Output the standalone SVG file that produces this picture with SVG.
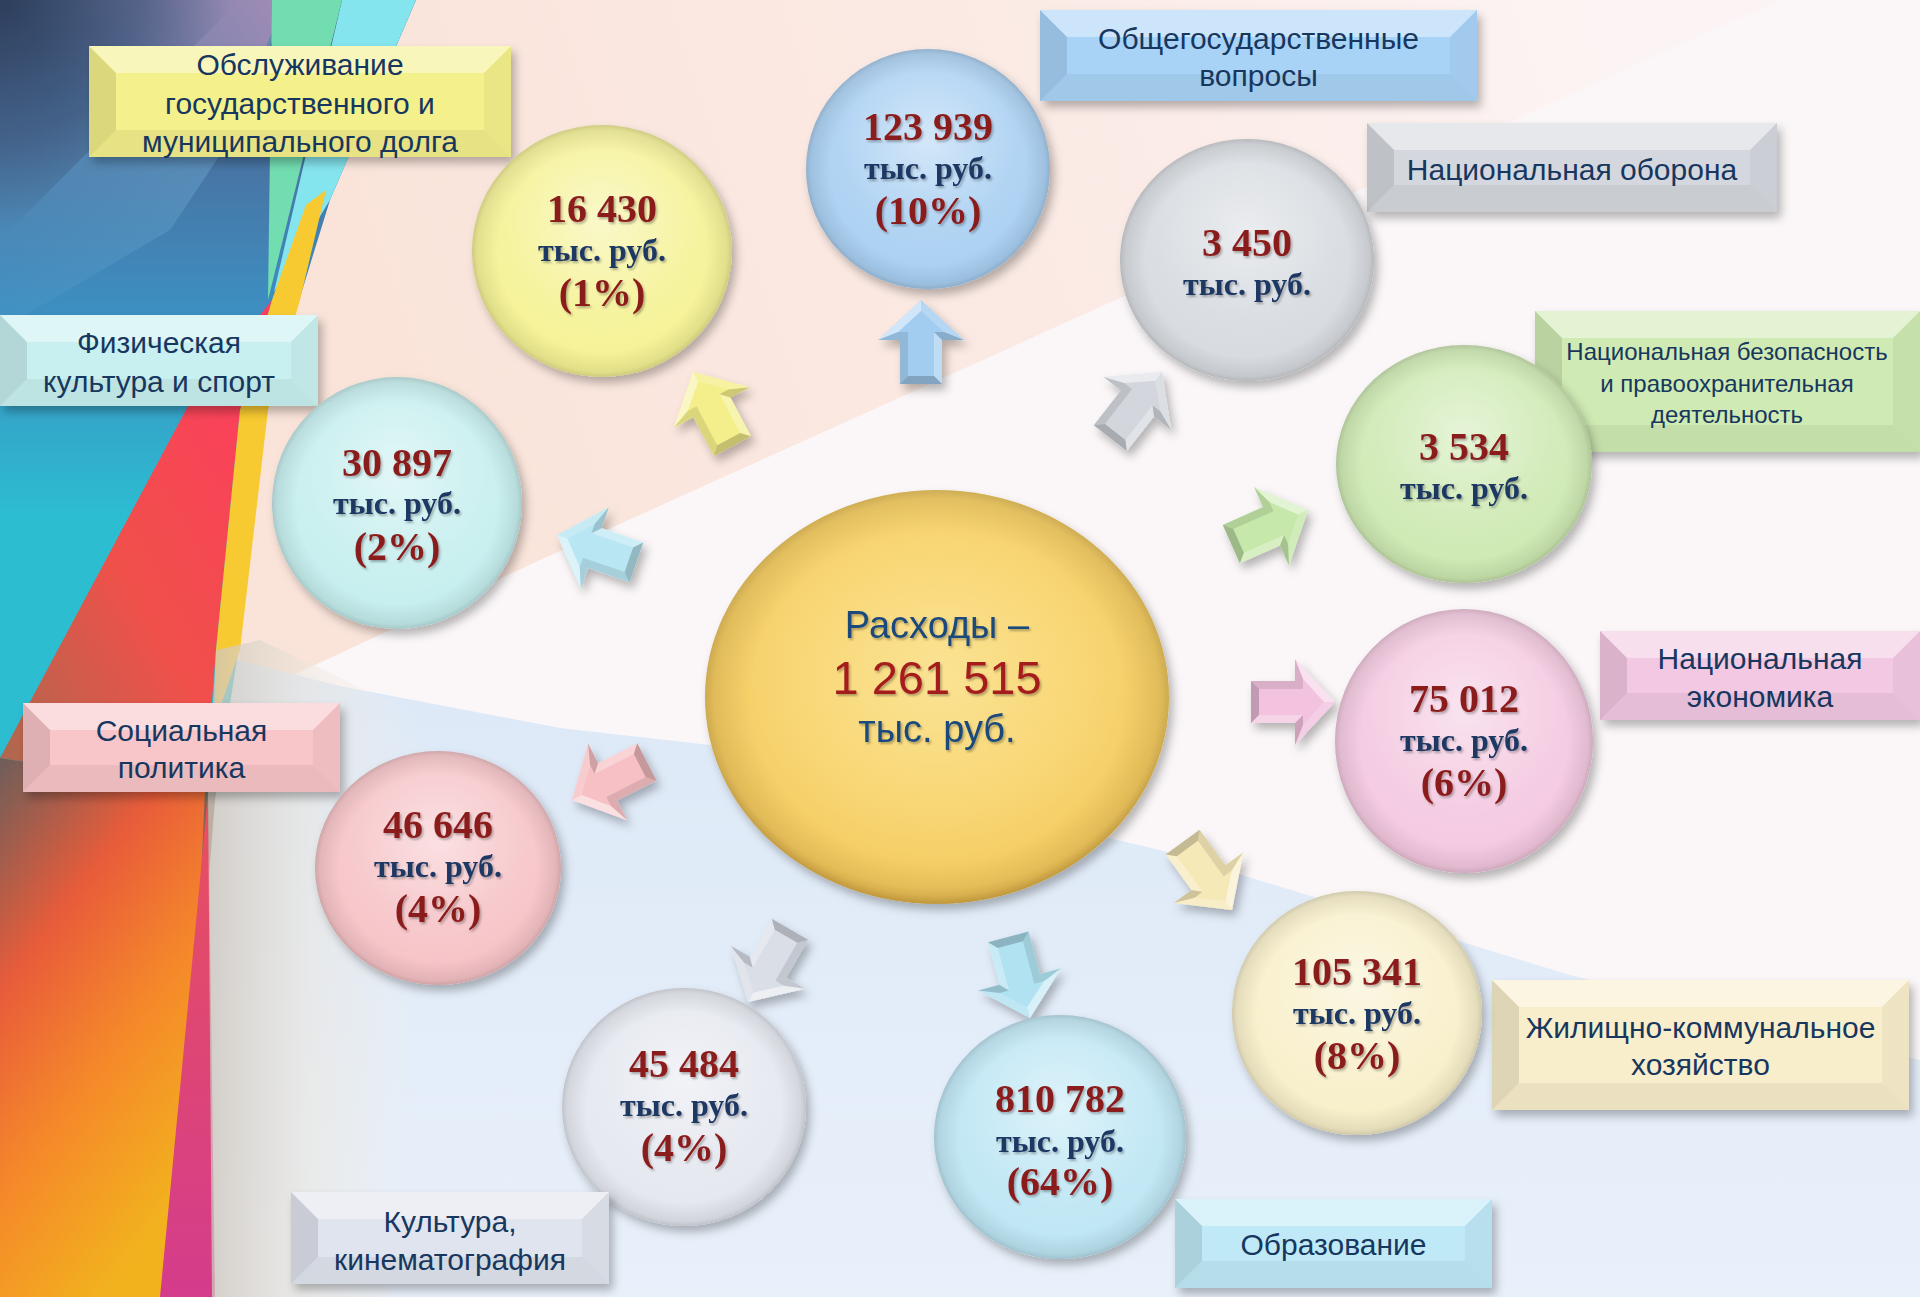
<svg xmlns="http://www.w3.org/2000/svg" xmlns:xlink="http://www.w3.org/1999/xlink" width="1920" height="1297" viewBox="0 0 1920 1297">
<defs>
<style>
.lbl{font-family:"Liberation Sans",Arial,sans-serif;font-size:30px;fill:#17375e;text-anchor:middle}
.sm{font-size:24px}
.num{font-family:"Liberation Serif","Times New Roman",serif;font-weight:bold;font-size:40px;fill:#8b1a1a;text-anchor:middle}
.unit{font-family:"Liberation Serif","Times New Roman",serif;font-weight:bold;font-size:32px;fill:#1f3864;text-anchor:middle}
.ctr{font-family:"Liberation Sans",Arial,sans-serif;font-size:38px;fill:#1b4a7c;text-anchor:middle}
.ctrn{font-family:"Liberation Sans",Arial,sans-serif;font-size:47px;fill:#a51c1c;text-anchor:middle}
.ft{fill:#fff;fill-opacity:.42}
.fb{fill:#000;fill-opacity:.05}
.fl{fill:#000;fill-opacity:.1}
.fr{fill:#000;fill-opacity:.04}
.gl{fill:url(#gloss)}
.rm{fill:url(#rim)}
</style>
<filter id="sh" x="-20%" y="-20%" width="150%" height="150%"><feDropShadow dx="4" dy="6" stdDeviation="5" flood-color="#000" flood-opacity="0.28"/></filter>
<filter id="tsh" x="-10%" y="-20%" width="130%" height="150%"><feDropShadow dx="1.5" dy="2" stdDeviation="1.2" flood-color="#000" flood-opacity="0.3"/></filter>
<radialGradient id="gloss" cx="0.5" cy="0.38" r="0.6"><stop offset="0" stop-color="#fff" stop-opacity="0.5"/><stop offset="0.6" stop-color="#fff" stop-opacity="0.12"/><stop offset="1" stop-color="#fff" stop-opacity="0"/></radialGradient>
<radialGradient id="rim" cx="0.5" cy="0.5" r="0.5"><stop offset="0.8" stop-color="#000" stop-opacity="0"/><stop offset="0.96" stop-color="#000" stop-opacity="0.08"/><stop offset="1" stop-color="#000" stop-opacity="0.16"/></radialGradient>
<radialGradient id="gC" cx="0.5" cy="0.45" r="0.55"><stop offset="0" stop-color="#fbe394"/><stop offset="0.6" stop-color="#f8d674"/><stop offset="0.93" stop-color="#f4ca5e"/><stop offset="1" stop-color="#e3b449"/></radialGradient>
<radialGradient id="gNavy" gradientUnits="userSpaceOnUse" cx="0" cy="0" r="230"><stop offset="0" stop-color="#2c3b58" stop-opacity="0.95"/><stop offset="0.6" stop-color="#34486c" stop-opacity="0.55"/><stop offset="1" stop-color="#34486c" stop-opacity="0"/></radialGradient>
<linearGradient id="gPeach" gradientUnits="userSpaceOnUse" x1="400" y1="400" x2="1600" y2="0"><stop offset="0" stop-color="#fae4da"/><stop offset="0.6" stop-color="#fbebe6"/><stop offset="1" stop-color="#fcf4f4"/></linearGradient>
<linearGradient id="gBlue" x1="0" y1="0" x2="0" y2="1"><stop offset="0" stop-color="#dce8f7"/><stop offset="1" stop-color="#e8f0fa"/></linearGradient>
<linearGradient id="gLeft" x1="0" y1="0" x2="0" y2="1"><stop offset="0" stop-color="#3b4a6b"/><stop offset="0.1" stop-color="#4a6e9c"/><stop offset="0.24" stop-color="#3d8fc2"/><stop offset="0.4" stop-color="#2cbdd1"/><stop offset="0.58" stop-color="#2cbdd1"/><stop offset="0.62" stop-color="#7b6252"/><stop offset="1" stop-color="#f4a71f"/></linearGradient>
<linearGradient id="gMauve" gradientUnits="userSpaceOnUse" x1="90" y1="120" x2="280" y2="0"><stop offset="0" stop-color="#9d88b4" stop-opacity="0"/><stop offset="0.6" stop-color="#9486b2" stop-opacity="0.75"/><stop offset="1" stop-color="#a48cb6" stop-opacity="0.95"/></linearGradient>
<linearGradient id="gLight" gradientUnits="userSpaceOnUse" x1="280" y1="0" x2="0" y2="420"><stop offset="0" stop-color="#7fb3d8" stop-opacity="0.6"/><stop offset="1" stop-color="#5fa8cf" stop-opacity="0"/></linearGradient>
<linearGradient id="gRed" x1="1" y1="0" x2="0" y2="1"><stop offset="0" stop-color="#ff3a62"/><stop offset="0.55" stop-color="#f0504a"/><stop offset="1" stop-color="#a86a4e"/></linearGradient>
<linearGradient id="gOr" x1="0" y1="0" x2="0.5" y2="1"><stop offset="0" stop-color="#6d5e5a"/><stop offset="0.35" stop-color="#e85c3a"/><stop offset="0.65" stop-color="#f5882a"/><stop offset="1" stop-color="#f2b21e"/></linearGradient>
<linearGradient id="gMag" x1="0" y1="0" x2="0" y2="1"><stop offset="0" stop-color="#e8505e"/><stop offset="1" stop-color="#d43c8c"/></linearGradient>
<linearGradient id="gBeige" gradientUnits="userSpaceOnUse" x1="200" y1="0" x2="420" y2="0"><stop offset="0" stop-color="#cbc2b8" stop-opacity="0.8"/><stop offset="0.5" stop-color="#ece5da" stop-opacity="0.5"/><stop offset="1" stop-color="#f5efe6" stop-opacity="0"/></linearGradient>
<path id="arr" d="M0,0 L43,40 L21,40 L21,84 L-21,84 L-21,40 L-43,40 Z"/>
<g id="facets">
<polygon points="0,0 -43,40 -23,32 0,11" fill="#fff" fill-opacity=".5"/>
<polygon points="0,0 43,40 23,32 0,11" fill="#fff" fill-opacity=".2"/>
<polygon points="-43,40 -21,40 -13,32 -23,32" fill="#000" fill-opacity=".1"/>
<polygon points="43,40 21,40 13,32 23,32" fill="#000" fill-opacity=".16"/>
<polygon points="-21,40 -21,84 -13,76 -13,32" fill="#000" fill-opacity=".1"/>
<polygon points="21,40 21,84 13,76 13,32" fill="#fff" fill-opacity=".3"/>
<polygon points="-21,84 21,84 13,76 -13,76" fill="#000" fill-opacity=".2"/>
</g>
</defs>

<g id="background">
<rect width="1920" height="1297" fill="#fbf7f8"/>
<polygon points="240,0 1780,0 540,560 240,700" fill="url(#gPeach)"/>
<polygon points="0,600 340,686 560,728 710,745 1160,850 1570,975 1920,1060 1920,1297 0,1297" fill="url(#gBlue)"/>
<path d="M0,0 L416,0 L330,200 L290,330 L262,420 L240,640 L215,800 L175,1297 L0,1297 Z" fill="url(#gLeft)"/>
<polygon points="0,0 285,0 250,110 170,230 0,330" fill="url(#gLight)"/>
<polygon points="0,0 285,0 240,110 0,180" fill="url(#gMauve)"/>
<polygon points="0,0 240,0 0,240" fill="url(#gNavy)"/>
<polygon points="272,0 342,0 268,300" fill="#72ddb0"/>
<polygon points="342,0 416,0 330,200 274,292" fill="#84e5ef"/>
<polygon points="272,300 240,410 216,650 205,790 0,758 187,408" fill="url(#gRed)"/>
<polygon points="306,205 326,190 300,300 268,410 240,650 214,725 216,650 240,410 272,300" fill="#f7ca31"/>
<polygon points="0,758 205,790 200,900 185,1297 0,1297" fill="url(#gOr)"/>
<polygon points="208,790 215,1297 160,1297 200,880" fill="url(#gMag)"/>
<polygon points="208,790 216,650 260,640 430,720 390,1297 212,1297" fill="url(#gBeige)"/>
</g>

<g id="connectors">
<g filter="url(#sh)"><g transform="translate(921,300) rotate(0)"><use href="#arr" fill="#a3cdf0"/><use href="#facets"/></g></g>
<g filter="url(#sh)"><g transform="translate(693,372) rotate(-28)"><use href="#arr" fill="#f4ef8a"/><use href="#facets"/></g></g>
<g filter="url(#sh)"><g transform="translate(557,535) rotate(-71)"><use href="#arr" fill="#b8e7f3"/><use href="#facets"/></g></g>
<g filter="url(#sh)"><g transform="translate(1162,372) rotate(38)"><use href="#arr" fill="#d3d7dd"/><use href="#facets"/></g></g>
<g filter="url(#sh)"><g transform="translate(1308,510) rotate(66)"><use href="#arr" fill="#c6e8aa"/><use href="#facets"/></g></g>
<g filter="url(#sh)"><g transform="translate(1335,702) rotate(90)"><use href="#arr" fill="#f2c2de"/><use href="#facets"/></g></g>
<g filter="url(#sh)"><g transform="translate(1232,910) rotate(144)"><use href="#arr" fill="#f6e9b8"/><use href="#facets"/></g></g>
<g filter="url(#sh)"><g transform="translate(1030,1018) rotate(165)"><use href="#arr" fill="#b0e2f1"/><use href="#facets"/></g></g>
<g filter="url(#sh)"><g transform="translate(748,1002) rotate(210)"><use href="#arr" fill="#dadee7"/><use href="#facets"/></g></g>
<g filter="url(#sh)"><g transform="translate(572,800) rotate(243)"><use href="#arr" fill="#f7c0c4"/><use href="#facets"/></g></g>
</g>

<g id="n-center">
<ellipse cx="937" cy="697" rx="232" ry="207" fill="url(#gC)" filter="url(#sh)"/>
<ellipse cx="937" cy="697" rx="232" ry="207" class="rm"/>
<g filter="url(#tsh)">
<text class="ctr" x="937" y="638">Расходы –</text>
<text class="ctrn" x="937" y="694">1 261 515</text>
<text class="ctr" x="937" y="742">тыс. руб.</text>
</g>
</g>

<g id="n-obshch">
<g transform="translate(1040,10)">
<rect width="437" height="91" fill="#a8d3f6" filter="url(#sh)"/>
<polygon class="ft" points="0,0 437,0 410,27 27,27"/><polygon class="fb" points="0,91 437,91 410,64 27,64"/><polygon class="fl" points="0,0 27,27 27,64 0,91"/><polygon class="fr" points="437,0 410,27 410,64 437,91"/>
<text class="lbl" x="218.5" y="39">Общегосударственные</text>
<text class="lbl" x="218.5" y="76">вопросы</text>
</g>
<ellipse cx="928" cy="169" rx="122" ry="120" fill="#a8cff2" filter="url(#sh)"/>
<ellipse cx="928" cy="169" rx="122" ry="120" class="gl"/><ellipse cx="928" cy="169" rx="122" ry="120" class="rm"/>
<g filter="url(#tsh)"><text class="num" x="928" y="140">123 939</text><text class="unit" x="928" y="179">тыс. руб.</text><text class="num" x="928" y="224">(10%)</text></g>
</g>

<g id="n-dolg">
<g transform="translate(89,46)">
<rect width="422" height="111" fill="#f4f08c" filter="url(#sh)"/>
<polygon class="ft" points="0,0 422,0 395,27 27,27"/><polygon class="fb" points="0,111 422,111 395,84 27,84"/><polygon class="fl" points="0,0 27,27 27,84 0,111"/><polygon class="fr" points="422,0 395,27 395,84 422,111"/>
<text class="lbl" x="211" y="29">Обслуживание</text>
<text class="lbl" x="211" y="68">государственного и</text>
<text class="lbl" x="211" y="106">муниципального долга</text>
</g>
<ellipse cx="602" cy="251" rx="130" ry="126" fill="#f5f294" filter="url(#sh)"/>
<ellipse cx="602" cy="251" rx="130" ry="126" class="gl"/><ellipse cx="602" cy="251" rx="130" ry="126" class="rm"/>
<g filter="url(#tsh)"><text class="num" x="602" y="222">16 430</text><text class="unit" x="602" y="261">тыс. руб.</text><text class="num" x="602" y="306">(1%)</text></g>
</g>

<g id="n-oborona">
<g transform="translate(1367,123)">
<rect width="410" height="89" fill="#d4d8de" filter="url(#sh)"/>
<polygon class="ft" points="0,0 410,0 383,27 27,27"/><polygon class="fb" points="0,89 410,89 383,62 27,62"/><polygon class="fl" points="0,0 27,27 27,62 0,89"/><polygon class="fr" points="410,0 383,27 383,62 410,89"/>
<text class="lbl" x="205" y="57">Национальная оборона</text>
</g>
<ellipse cx="1247" cy="260" rx="127" ry="121" fill="#d6dadf" filter="url(#sh)"/>
<ellipse cx="1247" cy="260" rx="127" ry="121" class="gl"/><ellipse cx="1247" cy="260" rx="127" ry="121" class="rm"/>
<g filter="url(#tsh)"><text class="num" x="1247" y="256">3 450</text><text class="unit" x="1247" y="295">тыс. руб.</text></g>
</g>

<g id="n-bezop">
<g transform="translate(1535,311)">
<rect width="385" height="141" fill="#cfeab3" filter="url(#sh)"/>
<polygon class="ft" points="0,0 385,0 358,27 27,27"/><polygon class="fb" points="0,141 385,141 358,114 27,114"/><polygon class="fl" points="0,0 27,27 27,114 0,141"/><polygon class="fr" points="385,0 358,27 358,114 385,141"/>
<text class="lbl sm" x="192" y="49">Национальная безопасность</text>
<text class="lbl sm" x="192" y="81">и правоохранительная</text>
<text class="lbl sm" x="192" y="112">деятельность</text>
</g>
<ellipse cx="1464" cy="464" rx="128" ry="119" fill="#cde9b1" filter="url(#sh)"/>
<ellipse cx="1464" cy="464" rx="128" ry="119" class="gl"/><ellipse cx="1464" cy="464" rx="128" ry="119" class="rm"/>
<g filter="url(#tsh)"><text class="num" x="1464" y="460">3 534</text><text class="unit" x="1464" y="499">тыс. руб.</text></g>
</g>

<g id="n-sport">
<g transform="translate(0,315)">
<rect width="318" height="91" fill="#c8f0f0" filter="url(#sh)"/>
<polygon class="ft" points="0,0 318,0 291,27 27,27"/><polygon class="fb" points="0,91 318,91 291,64 27,64"/><polygon class="fl" points="0,0 27,27 27,64 0,91"/><polygon class="fr" points="318,0 291,27 291,64 318,91"/>
<text class="lbl" x="159" y="38">Физическая</text>
<text class="lbl" x="159" y="77">культура и спорт</text>
</g>
<ellipse cx="397" cy="503" rx="125" ry="126" fill="#c5eeee" filter="url(#sh)"/>
<ellipse cx="397" cy="503" rx="125" ry="126" class="gl"/><ellipse cx="397" cy="503" rx="125" ry="126" class="rm"/>
<g filter="url(#tsh)"><text class="num" x="397" y="476">30 897</text><text class="unit" x="397" y="514">тыс. руб.</text><text class="num" x="397" y="560">(2%)</text></g>
</g>

<g id="n-ekonomika">
<g transform="translate(1600,631)">
<rect width="320" height="89" fill="#f3c8e2" filter="url(#sh)"/>
<polygon class="ft" points="0,0 320,0 293,27 27,27"/><polygon class="fb" points="0,89 320,89 293,62 27,62"/><polygon class="fl" points="0,0 27,27 27,62 0,89"/><polygon class="fr" points="320,0 293,27 293,62 320,89"/>
<text class="lbl" x="160" y="38">Национальная</text>
<text class="lbl" x="160" y="76">экономика</text>
</g>
<ellipse cx="1464" cy="741" rx="129" ry="132" fill="#f4c8e0" filter="url(#sh)"/>
<ellipse cx="1464" cy="741" rx="129" ry="132" class="gl"/><ellipse cx="1464" cy="741" rx="129" ry="132" class="rm"/>
<g filter="url(#tsh)"><text class="num" x="1464" y="712">75 012</text><text class="unit" x="1464" y="751">тыс. руб.</text><text class="num" x="1464" y="796">(6%)</text></g>
</g>

<g id="n-social">
<g transform="translate(23,703)">
<rect width="317" height="89" fill="#f8c5c8" filter="url(#sh)"/>
<polygon class="ft" points="0,0 317,0 290,27 27,27"/><polygon class="fb" points="0,89 317,89 290,62 27,62"/><polygon class="fl" points="0,0 27,27 27,62 0,89"/><polygon class="fr" points="317,0 290,27 290,62 317,89"/>
<text class="lbl" x="158.5" y="38">Социальная</text>
<text class="lbl" x="158.5" y="75">политика</text>
</g>
<ellipse cx="438" cy="868" rx="123" ry="117" fill="#f6c2c6" filter="url(#sh)"/>
<ellipse cx="438" cy="868" rx="123" ry="117" class="gl"/><ellipse cx="438" cy="868" rx="123" ry="117" class="rm"/>
<g filter="url(#tsh)"><text class="num" x="438" y="838">46 646</text><text class="unit" x="438" y="877">тыс. руб.</text><text class="num" x="438" y="922">(4%)</text></g>
</g>

<g id="n-zhkh">
<g transform="translate(1492,980)">
<rect width="417" height="130" fill="#f8eecb" filter="url(#sh)"/>
<polygon class="ft" points="0,0 417,0 390,27 27,27"/><polygon class="fb" points="0,130 417,130 390,103 27,103"/><polygon class="fl" points="0,0 27,27 27,103 0,130"/><polygon class="fr" points="417,0 390,27 390,103 417,130"/>
<text class="lbl" x="208.5" y="58">Жилищно-коммунальное</text>
<text class="lbl" x="208.5" y="95">хозяйство</text>
</g>
<ellipse cx="1357" cy="1013" rx="125" ry="122" fill="#f8efc9" filter="url(#sh)"/>
<ellipse cx="1357" cy="1013" rx="125" ry="122" class="gl"/><ellipse cx="1357" cy="1013" rx="125" ry="122" class="rm"/>
<g filter="url(#tsh)"><text class="num" x="1357" y="985">105 341</text><text class="unit" x="1357" y="1024">тыс. руб.</text><text class="num" x="1357" y="1069">(8%)</text></g>
</g>

<g id="n-kultura">
<ellipse cx="684" cy="1107" rx="122" ry="119" fill="#e4e7ef" filter="url(#sh)"/>
<ellipse cx="684" cy="1107" rx="122" ry="119" class="gl"/><ellipse cx="684" cy="1107" rx="122" ry="119" class="rm"/>
<g filter="url(#tsh)"><text class="num" x="684" y="1077">45 484</text><text class="unit" x="684" y="1116">тыс. руб.</text><text class="num" x="684" y="1161">(4%)</text></g>
<g transform="translate(291,1192)">
<rect width="318" height="92" fill="#e0e4ee" filter="url(#sh)"/>
<polygon class="ft" points="0,0 318,0 291,27 27,27"/><polygon class="fb" points="0,92 318,92 291,65 27,65"/><polygon class="fl" points="0,0 27,27 27,65 0,92"/><polygon class="fr" points="318,0 291,27 291,65 318,92"/>
<text class="lbl" x="159" y="40">Культура,</text>
<text class="lbl" x="159" y="78">кинематография</text>
</g>
</g>

<g id="n-obrazovanie">
<ellipse cx="1060" cy="1137" rx="126" ry="122" fill="#bde6f4" filter="url(#sh)"/>
<ellipse cx="1060" cy="1137" rx="126" ry="122" class="gl"/><ellipse cx="1060" cy="1137" rx="126" ry="122" class="rm"/>
<g filter="url(#tsh)"><text class="num" x="1060" y="1112">810 782</text><text class="unit" x="1060" y="1152">тыс. руб.</text><text class="num" x="1060" y="1195">(64%)</text></g>
<g transform="translate(1175,1199)">
<rect width="317" height="89" fill="#bfe9f7" filter="url(#sh)"/>
<polygon class="ft" points="0,0 317,0 290,27 27,27"/><polygon class="fb" points="0,89 317,89 290,62 27,62"/><polygon class="fl" points="0,0 27,27 27,62 0,89"/><polygon class="fr" points="317,0 290,27 290,62 317,89"/>
<text class="lbl" x="158.5" y="56">Образование</text>
</g>
</g>
</svg>
